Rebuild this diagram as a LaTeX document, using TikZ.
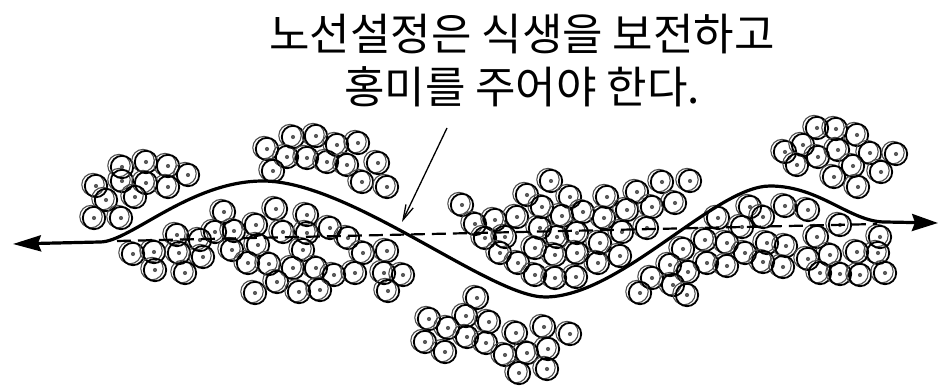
\documentclass[tikz,border=0pt]{standalone}
\usepackage{fontspec}
\newfontfamily\krfont{Noto Sans CJK KR}
\usetikzlibrary{arrows.meta}
\begin{document}
\begin{tikzpicture}[x=1pt,y=-1pt,
  treering/.style={line width=1.8pt, black},
  treeshadow/.style={line width=1.1pt, black!70},
  treedot/.style={fill=black!65},
  routeline/.style={line width=3.2pt, line cap=round,
    {Stealth[length=28pt,width=16pt,inset=3pt]}-{Stealth[length=26pt,width=17pt,inset=3pt]}},
  straightline/.style={line width=2.2pt, dash pattern=on 14pt off 7pt},
  pointer/.style={line width=1.3pt, -{Straight Barb[length=15pt,width=8pt,line width=1.3pt]}},
  caption/.style={font=\krfont\fontsize{44}{54}\selectfont, inner sep=0pt},
  tree/.pic={
    \draw[treeshadow] (-3,-1.4) circle[radius=11.2pt];
    \draw[treering] (0,0) circle[radius=11.2pt];
    \fill[treedot] (0,0) circle[radius=2.1pt];
  }
]
\useasboundingbox (0,0) rectangle (938,390);

% caption
\node[caption] (line1) at (522,34) {노선설정은 식생을 보전하고};
\node[caption] (line2) at (522,87) {홍미를 주어야 한다.};

% tree clusters
\foreach \x/\y in {
  % west group
  122/167,146/162,168/166,188/175,96/186,122/181,146/183,168/187,106/200,135/197,94/218,121/218,
  % north group
  293/137,316/136,267/149,287/157,307/158,327/162,337/145,358/143,347/165,378/163,273/171,362/182,387/187,
  % south-west belt
  224/212,276/209,307/215,177/235,215/232,234/231,256/225,283/232,307/233,330/228,348/238,200/240,
  133/254,154/252,179/253,203/257,232/250,258/245,303/250,363/253,387/251,155/270,185/273,248/263,
  269/264,293/268,316/268,334/275,355/273,384/273,403/275,255/293,277/282,299/292,320/290,388/291,
  462/205,
  % central belt
  551/181,527/195,570/197,607/197,637/192,662/182,690/181,542/207,562/216,583/212,604/218,627/210,
  652/207,675/203,475/224,495/220,517/217,540/228,557/237,577/233,600/243,622/232,647/228,485/238,
  505/237,500/253,535/248,555/255,577/253,598/263,620/256,518/263,535/275,555/278,576/277,
  % east belt
  750/207,785/206,808/210,718/218,763/217,840/225,742/227,705/240,727/243,767/243,786/246,817/237,
  683/249,745/253,880/237,878/253,857/252,830/255,808/259,707/263,727/266,763/262,783/267,670/265,
  820/273,840/274,860/275,885/273,652/278,688/272,673/285,640/293,687/295,
  % north-east group
  817/128,836/129,857/135,785/152,803/145,818/157,838/150,870/153,896/154,797/165,853/166,881/172,
  834/177,858/187,
  % south group
  477/298,429/319,466/316,489/322,448/328,516/333,544/327,570/334,425/342,467/337,486/343,445/352,
  505/355,527/353,548/349,519/373,547/369}
  \pic at (\x,\y) {tree};

% straight alignment (dashed) and winding alignment (solid)
\coordinate (dashW) at (117,241);
\coordinate (dashE) at (877,224);
\draw[straightline] (dashW) -- (dashE);

\coordinate (routeW) at (13,244);
\coordinate (routeE) at (938,223);
\draw[routeline] (routeW) -- (100,242)
  .. controls (130,242) and (190,181) .. (263,181)
  .. controls (350,181) and (490,297) .. (545,297)
  .. controls (620,297) and (715,186) .. (770,186)
  .. controls (820,186) and (850,222) .. (885,222) -- (routeE);

% leader from caption to the route
\coordinate (leadTail) at (447,128);
\coordinate (leadTip) at (402,222);
\draw[pointer] (leadTail) -- (leadTip);
\end{tikzpicture}
\end{document}
